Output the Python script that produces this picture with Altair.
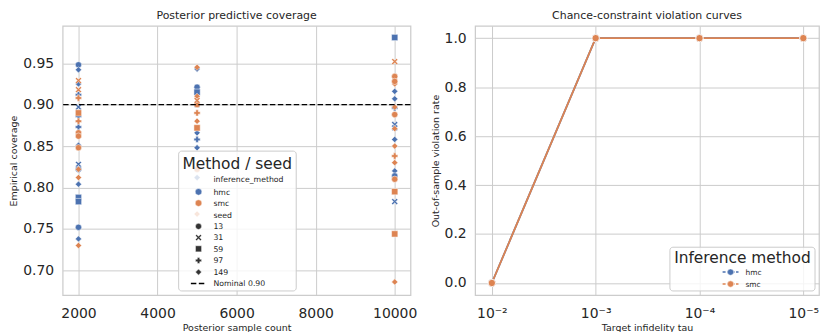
import altair as alt
import pandas as pd
import math

# ---------------- Left panel: posterior predictive coverage ----------------
methods = ["hmc", "smc"]
seeds = [13, 31, 59, 97, 149]
method_colors = ["#4C72B0", "#DD8452"]
nominal = 0.90

cov_n = (
    [2000] * 15 + [2000] * 11
    + [5000] * 8 + [5000] * 9
    + [10000] * 10 + [10000] * 14
)
cov_method = (
    ["hmc"] * 15 + ["smc"] * 11
    + ["hmc"] * 8 + ["smc"] * 9
    + ["hmc"] * 10 + ["smc"] * 14
)
cov_seed = (
    [13, 149, 149, 31, 97, 97, 149, 31, 13, 149, 59, 59, 13, 149, 97]
    + [31, 31, 97, 97, 13, 13, 149, 149, 149, 59, 13]
    + [149, 13, 31, 149, 97, 149, 149, 59]
    + [149, 149, 13, 97, 149, 59, 13, 149, 31]
    + [59, 149, 149, 31, 31, 149, 149, 13, 31, 97]
    + [31, 13, 149, 149, 13, 149, 149, 97, 149, 13, 59, 59, 149, 13]
)
cov_value = (
    [0.948, 0.942, 0.925, 0.897, 0.886, 0.873, 0.851, 0.828, 0.822, 0.804, 0.788, 0.783, 0.752, 0.738, 0.912]
    + [0.929, 0.918, 0.908, 0.880, 0.866, 0.862, 0.822, 0.812, 0.730, 0.890, 0.848]
    + [0.943, 0.921, 0.900, 0.866, 0.858, 0.848, 0.812, 0.915]
    + [0.945, 0.910, 0.900, 0.890, 0.880, 0.872, 0.822, 0.768, 0.905]
    + [0.981, 0.916, 0.907, 0.876, 0.872, 0.858, 0.820, 0.814, 0.783, 0.896]
    + [0.952, 0.934, 0.925, 0.897, 0.888, 0.871, 0.850, 0.838, 0.830, 0.810, 0.795, 0.744, 0.686, 0.928]
)
cov_xticks = [2000, 4000, 6000, 8000, 10000]
cov_yticks = [0.70, 0.75, 0.80, 0.85, 0.90, 0.95]

# ---------------- Right panel: chance-constraint violation ----------------
tau = [1e-2, 1e-3, 1e-4, 1e-5]
tau_labels = ["10\u207b\u00b2", "10\u207b\u00b3", "10\u207b\u2074", "10\u207b\u2075"]
viol_hmc = [0.0, 1.0, 1.0, 1.0]
viol_smc = [0.0, 1.0, 1.0, 1.0]
viol_yticks = [0.0, 0.2, 0.4, 0.6, 0.8, 1.0]

FONT = "DejaVu Sans"
TXT = "#262626"
W, H = 350, 271
W_R = 346

X_PATH = "M-1,-0.6 L-0.6,-1 L0,-0.4 L0.6,-1 L1,-0.6 L0.4,0 L1,0.6 L0.6,1 L0,0.4 L-0.6,1 L-1,0.6 L-0.4,0 Z"
seed_shapes = ["circle", X_PATH, "square", "cross", "diamond"]

cov_df = pd.DataFrame({"n": cov_n, "method": cov_method, "seed": cov_seed, "coverage": cov_value})

one = pd.DataFrame({"a": [0]})


def ltext(x, y, s, size, align="left"):
    return alt.Chart(one).mark_text(text=s, fontSize=size, font=FONT, color=TXT,
                                    align=align, baseline="alphabetic").encode(
        x=alt.value(x), y=alt.value(y))


def lpoint(x, y, shape, color, size):
    return alt.Chart(one).mark_point(shape=shape, filled=True, color=color, size=size,
                                     opacity=1, stroke="white", strokeWidth=0.5).encode(
        x=alt.value(x), y=alt.value(y))


def lbox(x0, y0, x1, y1):
    return alt.Chart(one).mark_rect(fill="white", fillOpacity=0.8, stroke="#cccccc",
                                    strokeWidth=1, cornerRadius=3).encode(
        x=alt.value(x0), x2=alt.value(x1), y=alt.value(y0), y2=alt.value(y1))


def lrule(x0, x1, y, color, dash, width):
    return alt.Chart(one).mark_rule(color=color, strokeDash=dash, strokeWidth=width).encode(
        x=alt.value(x0), x2=alt.value(x1), y=alt.value(y))


xs = alt.Scale(domain=[1600, 10400], nice=False, zero=False)
ys = alt.Scale(domain=[0.67, 0.995], nice=False, zero=False)

left_pts = alt.Chart(cov_df).mark_point(filled=True, size=40, opacity=1, stroke="white",
                                        strokeWidth=0.5).encode(
    x=alt.X("n:Q", scale=xs, axis=alt.Axis(values=cov_xticks, format="d",
                                           title="Posterior sample count")),
    y=alt.Y("coverage:Q", scale=ys, axis=alt.Axis(values=cov_yticks, format=".2f",
                                                  title="Empirical coverage")),
    color=alt.Color("method:N", scale=alt.Scale(domain=methods, range=method_colors), legend=None),
    shape=alt.Shape("seed:N", scale=alt.Scale(domain=seeds, range=seed_shapes), legend=None),
)

nom_rule = alt.Chart(pd.DataFrame({"y": [nominal]})).mark_rule(
    color="black", strokeDash=[5.5, 2.5], strokeWidth=1.5).encode(y=alt.Y("y:Q", scale=ys))

# legend for left panel (relative to plot origin)
lx_marker, lx_text = 136.7, 151.7
rows_y = [154.3, 167.0, 178.3, 190.3, 201.7, 213.0, 224.3, 236.0, 247.7, 259.3]
left_leg = [lbox(116.7, 126, 235, 266.7), ltext(175.7, 144.3, "Method / seed", 15.5, "center")]
entries = [("inference_method", None, None),
           ("hmc", "circle", method_colors[0]),
           ("smc", "circle", method_colors[1]),
           ("seed", None, None)] + [(str(s), sh, "#333333") for s, sh in zip(seeds, seed_shapes)]
for (lab, sh, col), yy in zip(entries, rows_y[:-1]):
    if sh is not None:
        left_leg.append(lpoint(lx_marker, yy, sh, col, 45 if col != "#333333" else 38))
    left_leg.append(ltext(lx_text, yy + 2.8, lab, 7.8))
left_leg.append(lrule(129, 144.3, rows_y[-1], "black", [5.5, 2.5], 1.5))
left_leg.append(ltext(lx_text, rows_y[-1] + 2.8, "Nominal 0.90", 7.8))

left = alt.layer(left_pts, nom_rule, *left_leg).properties(
    width=W, height=H,
    title=alt.TitleParams("Posterior predictive coverage", fontSize=11, fontWeight="normal",
                          font=FONT, color=TXT, offset=5))

# ---------------- right chart ----------------
viol_df = pd.DataFrame({
    "tau": tau + tau,
    "method": ["hmc"] * len(tau) + ["smc"] * len(tau),
    "rate": viol_hmc + viol_smc,
})

label_expr = " : ".join(
    f"abs(log(datum.value)/LN10 - ({round(math.log10(t))})) < 0.1 ? '{lab}'"
    for t, lab in zip(tau, tau_labels)) + " : ''"

txs = alt.Scale(type="log", domain=[7.06e-6, 0.01449], reverse=True, nice=False)
tys = alt.Scale(domain=[-0.05, 1.05], nice=False, zero=False)
enc = dict(
    x=alt.X("tau:Q", scale=txs, axis=alt.Axis(values=tau, labelExpr=label_expr,
                                              title="Target infidelity tau")),
    y=alt.Y("rate:Q", scale=tys, axis=alt.Axis(values=viol_yticks, format=".1f",
                                               title="Out-of-sample violation rate")),
    color=alt.Color("method:N", scale=alt.Scale(domain=methods, range=method_colors), legend=None),
)
r_line = alt.Chart(viol_df).mark_line(strokeWidth=1.8).encode(**enc)
r_pts = alt.Chart(viol_df).mark_point(filled=True, size=55, opacity=1, stroke="white",
                                      strokeWidth=0.8).encode(**enc)

right_leg = [lbox(196, 222.7, 342, 266.7), ltext(269, 239, "Inference method", 15.5, "center")]
for lab, col, yy in zip(methods, method_colors, [247.7, 259.7]):
    right_leg.append(lrule(249, 265, yy, col, [3, 1.5], 1.5))
    right_leg.append(lpoint(257, yy, "circle", col, 40))
    right_leg.append(ltext(272, yy + 2.6, lab, 7.5))

right = alt.layer(r_line, r_pts, *right_leg).properties(
    width=W_R, height=H,
    title=alt.TitleParams("Chance-constraint violation curves", fontSize=11, fontWeight="normal",
                          font=FONT, color=TXT, offset=5))

chart = alt.hconcat(left, right, spacing=12).properties(
    padding={"left": 0, "top": 0, "right": 0, "bottom": 0}
).configure_axis(
    grid=True, gridColor="#cccccc", gridWidth=1, domain=False, ticks=False,
    labelFont=FONT, labelFontSize=14, labelColor=TXT, labelFlush=False,
    labelOverlap=False,
    titleFont=FONT, titleFontSize=9.5, titleFontWeight="normal", titleColor=TXT, titlePadding=4,
).configure_axisX(labelPadding=11, titlePadding=2).configure_axisY(labelPadding=9).configure_view(
    stroke="#cccccc", strokeWidth=1.25)

chart.save("out.html", embed_options={"renderer": "svg", "actions": False})
